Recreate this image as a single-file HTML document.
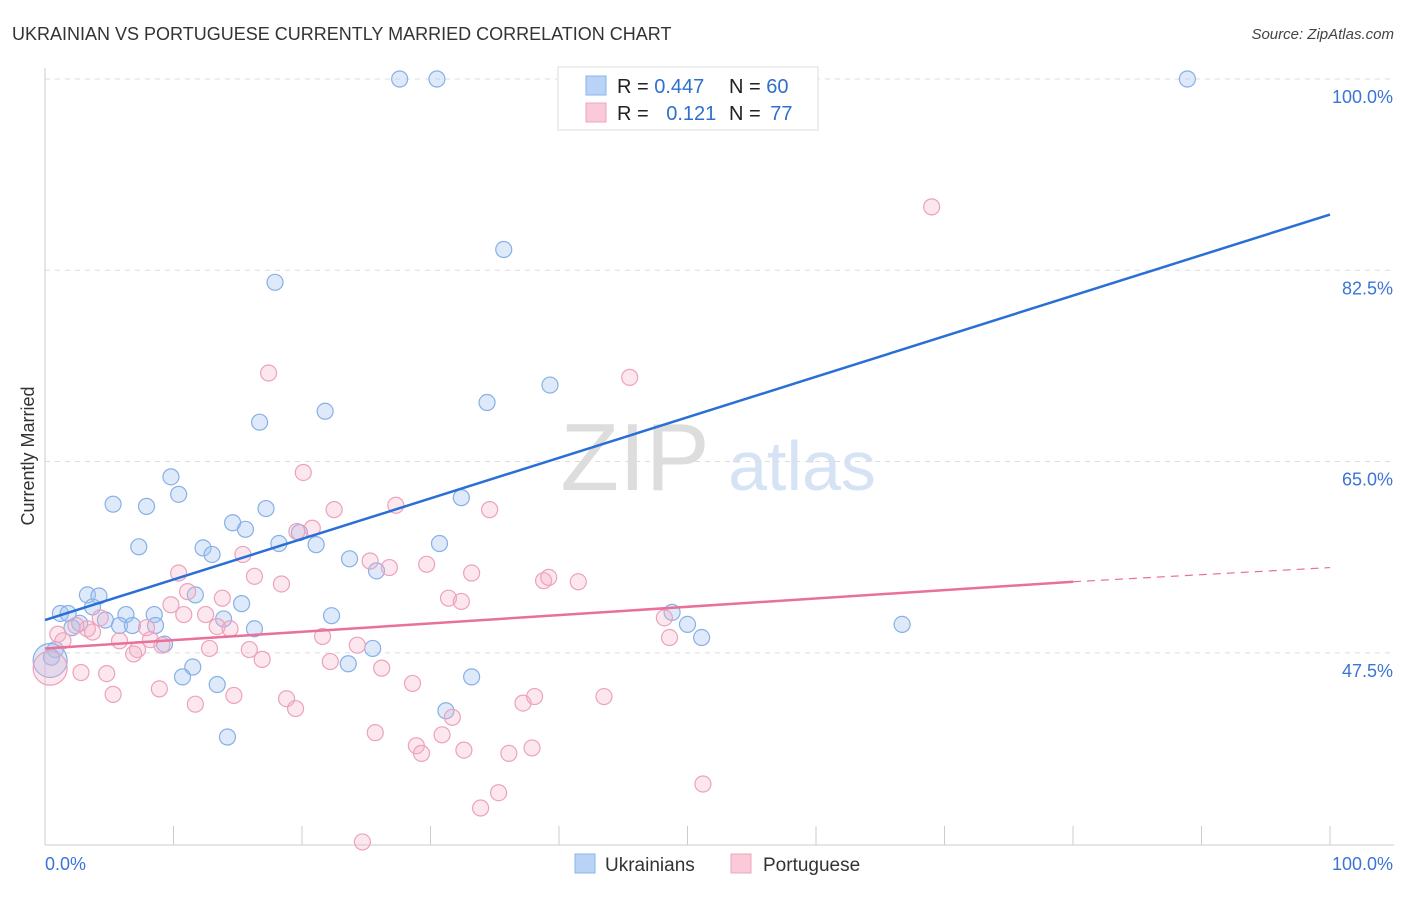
<!DOCTYPE html>
<html><head><meta charset="utf-8">
<style>
body{margin:0;background:#fff;font-family:"Liberation Sans",sans-serif;}
svg text{font-family:"Liberation Sans",sans-serif;}
</style></head>
<body>
<svg id="chart" width="1406" height="892" viewBox="0 0 1406 892">
<text x="12" y="40" font-size="18" fill="#333">UKRAINIAN VS PORTUGUESE CURRENTLY MARRIED CORRELATION CHART</text>
<text x="1394" y="39" font-size="15" fill="#444" text-anchor="end" font-style="italic">Source: ZipAtlas.com</text>
<text x="34" y="456" font-size="18" fill="#333" text-anchor="middle" transform="rotate(-90 34 456)">Currently Married</text>
<g>
<text x="635" y="490" font-size="96" fill="#ddd" text-anchor="middle" font-family="Liberation Serif">ZIP</text>
<text x="802" y="490" font-size="70" fill="#d6e3f5" text-anchor="middle">atlas</text>
</g>
<g id="grid"></g>
<g id="axes"></g>
<g id="pts"></g>
<g id="lines"></g>
<g>
<rect x="558" y="67" width="260" height="63" fill="#fff" stroke="#ddd"/>
<rect x="586" y="76" width="20" height="19" fill="#b8d3f5" stroke="#8ab4e8"/>
<rect x="586" y="103" width="20" height="19" fill="#fbcad8" stroke="#eea6bf"/>
<text x="617" y="93" font-size="20" fill="#222">R = <tspan fill="#2e6fd0">0.447</tspan></text>
<text x="729" y="93" font-size="20" fill="#222">N = <tspan fill="#2e6fd0">60</tspan></text>
<text x="617" y="120" font-size="20" fill="#222">R = <tspan fill="#2e6fd0" dx="12">0.121</tspan></text>
<text x="729" y="120" font-size="20" fill="#222">N = <tspan fill="#2e6fd0" dx="4">77</tspan></text>
</g>
<g>
<rect x="575" y="854" width="20" height="19" fill="#b8d3f5" stroke="#8ab4e8"/>
<text x="605" y="871" font-size="19" fill="#333">Ukrainians</text>
<rect x="731" y="854" width="20" height="19" fill="#fbcad8" stroke="#eea6bf"/>
<text x="763" y="871" font-size="19" fill="#333">Portuguese</text>
</g>
</svg>
<script>
const yTicks=[47.5,65.0,82.5,100.0];
const yTickLabels=["47.5%","65.0%","82.5%","100.0%"];
const xTickLabels=["0.0%","100.0%"];
const blueX=[27.6,30.5,88.9,35.7,17.9,39.3,34.4,21.8,16.7,9.8,10.4,5.3,7.9,32.4,17.2,14.6,15.6,19.8,7.3,12.3,13.0,18.2,21.1,30.7,23.7,25.8,3.3,4.2,1.2,1.8,3.7,6.3,8.5,15.3,11.7,22.3,2.7,4.7,5.8,6.8,8.6,13.9,16.3,2.1,9.3,25.5,0.8,0.5,11.5,10.7,23.6,33.2,13.4,31.2,14.2,48.8,50.0,51.1,66.7,0.4];
const blueY=[100,100,100,84.4,81.4,72.0,70.4,69.6,68.6,63.6,62.0,61.1,60.9,61.7,60.7,59.4,58.8,58.5,57.2,57.1,56.5,57.5,57.4,57.5,56.1,55.0,52.8,52.7,51.1,51.1,51.7,51.0,51.0,52.0,52.8,50.9,50.2,50.5,50.0,50.0,50.0,50.6,49.7,49.8,48.3,47.9,47.8,47.1,46.2,45.3,46.5,45.3,44.6,42.2,39.8,51.2,50.1,48.9,50.1,46.8];
const pinkX=[69.0,17.4,45.5,20.1,27.3,22.5,34.6,19.6,20.8,15.4,25.3,26.8,29.7,10.4,16.3,18.4,33.2,38.8,39.2,41.5,11.1,13.8,31.4,32.4,9.8,10.8,12.5,13.4,14.4,4.3,3.3,2.4,1.0,1.4,3.7,7.9,8.2,5.8,7.2,6.9,9.1,12.8,15.9,16.9,21.6,24.3,22.2,26.2,2.8,4.8,8.9,5.3,14.7,18.8,28.6,11.7,19.5,37.2,38.1,43.5,31.7,25.7,30.9,28.9,29.3,32.6,36.1,37.9,48.2,48.6,51.2,35.3,33.9,24.7,0.4];
const pinkY=[88.3,73.1,72.7,64.0,61.0,60.6,60.6,58.6,58.9,56.5,55.9,55.3,55.6,54.8,54.5,53.8,54.8,54.1,54.4,54.0,53.1,52.5,52.5,52.2,51.9,51.0,51.0,49.9,49.7,50.7,49.7,50.0,49.2,48.6,49.4,49.8,48.7,48.6,47.8,47.4,48.2,47.9,47.8,46.9,49.0,48.2,46.7,46.1,45.7,45.6,44.2,43.7,43.6,43.3,44.7,42.8,42.4,42.9,43.5,43.5,41.6,40.2,40.0,39.0,38.3,38.6,38.3,38.8,50.7,48.9,35.5,34.7,33.3,30.2,46.1];
const blueLineX=[0,100], blueLineY=[50.5,87.6];
const pinkLineX=[0,80,100], pinkLineY=[47.9,54.0,55.3];
const X=v=>45+v*12.85, Y=v=>79+(100-v)*10.93;
const NS="http://www.w3.org/2000/svg";
function mk(t,a,p){const e=document.createElementNS(NS,t);for(const k in a)e.setAttribute(k,a[k]);document.getElementById(p).appendChild(e);return e;}
yTicks.forEach((t,i)=>{
 const g=mk('line',{x1:45,x2:1394,y1:Y(t),y2:Y(t),stroke:'#ddd','stroke-dasharray':'5,5'},'grid');
 
 
 const l=mk('text',{x:1393,y:Y(t)+24,'font-size':18,fill:'#3b74d6','text-anchor':'end'},'axes');
 l.textContent=yTickLabels[i];
 
 
});
const ax=mk('line',{x1:45,x2:45,y1:68,y2:845,stroke:'#ccc'},'axes');


const bx=mk('line',{x1:45,x2:1394,y1:845,y2:845,stroke:'#ccc'},'axes');


for(let i=1;i<=10;i++){const t=mk('line',{x1:X(i*10),x2:X(i*10),y1:826,y2:845,stroke:'#ccc'},'axes');
 
 }
[[0,'start',X(0)],[1,'end',1393]].forEach(([i,a,x])=>{const t=mk('text',{x:x,y:870,'font-size':18,fill:'#3b74d6','text-anchor':a},'axes');t.textContent=xTickLabels[i];
 
 });
function dots(xs,ys,fill,stroke,name){xs.forEach((x,i)=>{const big=(x<0.6&&i===xs.length-1);
 const c=mk('circle',{cx:X(x),cy:Y(ys[i]),r:big?17:8,fill:fill,stroke:stroke,'stroke-width':1.2},'pts');
 
 });}
dots(blueX,blueY,'rgba(160,196,240,0.35)','#86b0e6','ukrainian-point');
dots(pinkX,pinkY,'rgba(245,175,198,0.3)','#eca2bc','portuguese-point');
const bl=mk('line',{x1:X(blueLineX[0]),y1:Y(blueLineY[0]),x2:X(blueLineX[1]),y2:Y(blueLineY[1]),stroke:'#2a6fd6','stroke-width':2.5},'lines');


const pl=mk('line',{x1:X(pinkLineX[0]),y1:Y(pinkLineY[0]),x2:X(pinkLineX[1]),y2:Y(pinkLineY[1]),stroke:'#e8709a','stroke-width':2.5},'lines');


const pd=mk('line',{x1:X(pinkLineX[1]),y1:Y(pinkLineY[1]),x2:X(pinkLineX[2]),y2:Y(pinkLineY[2]),stroke:'#e8709a','stroke-width':1.2,'stroke-dasharray':'8,6'},'lines');


</script>
</body></html>
